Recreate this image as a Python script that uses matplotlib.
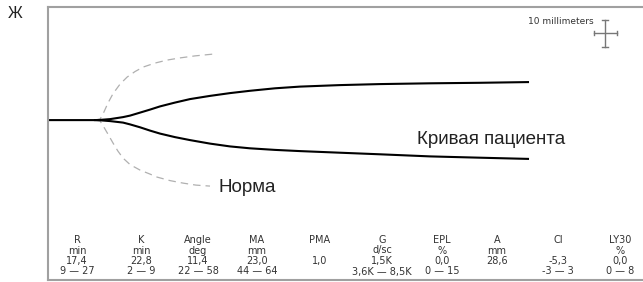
import matplotlib.pyplot as plt
import matplotlib.lines as mlines

# patient trace: time (min) vs amplitude (mm), upper and lower branch
pat_t = [19.3, 23.0, 27.8, 30.4, 34.1, 37.8, 41.5, 47.0, 52.6, 60.0, 67.4, 74.8,
         84.1, 93.3, 108.1, 122.9, 141.5, 160.0, 177.8]
pat_a_up = [0.08, 0.38, 1.15, 1.73, 2.88, 4.04, 5.27, 6.73, 8.08, 9.31, 10.38, 11.27,
            12.23, 12.88, 13.46, 13.85, 14.15, 14.35, 14.62]
pat_a_lo = [-0.08, -0.38, -0.96, -1.65, -2.77, -4.04, -5.19, -6.54, -7.69, -9.04, -10.12, -10.85,
            -11.46, -11.92, -12.54, -13.15, -13.96, -14.46, -14.92]
r_time = 17.4

# normal (reference) trace
norm_t_up = [17.4, 19.3, 20.7, 22.2, 24.1, 26.7, 29.3, 32.2, 35.2, 39.6, 44.1, 48.9, 54.4, 61.1]
norm_a_up = [0, 0.38, 3.08, 6.54, 10.19, 13.85, 16.54, 18.65, 20.38, 21.92, 23.08, 23.92, 24.69, 25.38]
norm_t_lo = [17.4, 19.3, 20.7, 22.2, 24.1, 25.9, 27.8, 30.4, 34.1, 37.8, 40.4, 45.2, 50.0, 54.8, 60.0]
norm_a_lo = [0, -0.38, -2.69, -5.38, -8.85, -11.92, -14.62, -17.12, -19.23, -20.77, -21.92,
             -23.27, -24.23, -25.0, -25.38]

# parameter table
par_names = ["R", "K", "Angle", "MA", "PMA", "G", "EPL", "A", "CI", "LY30"]
par_units = ["min", "min", "deg", "mm", "", "d/sc", "%", "mm", "", "%"]
par_values = ["17,4", "22,8", "11,4", "23,0", "1,0", "1,5K", "0,0", "28,6", "-5,3", "0,0"]
par_ranges = ["9 — 27", "2 — 9", "22 — 58", "44 — 64", "", "3,6K — 8,5K", "0 — 15", "", "-3 — 3", "0 — 8"]
col_x = [77, 141, 198, 257, 320, 382, 442, 497, 558, 620]

W, H = 643, 282
fig = plt.figure(figsize=(W / 100, H / 100), dpi=100)
ax = fig.add_axes([48 / W, 2 / H, 602 / W, 273 / H])
ax.set_xlim(0, 223)
ax.set_ylim(-61.5, 43.5)
ax.set_xticks([])
ax.set_yticks([])
for s in ["left", "top", "bottom"]:
    ax.spines[s].set_color("#a0a0a0")
    ax.spines[s].set_linewidth(1.5)
ax.spines["right"].set_visible(False)

ax.plot(norm_t_up, norm_a_up, color="#b0b0b0", lw=0.9, ls=(0, (6, 4)))
ax.plot(norm_t_lo, norm_a_lo, color="#b0b0b0", lw=0.9, ls=(0, (6, 4)))
ax.plot([0, r_time] + pat_t, [0, 0] + pat_a_up, color="black", lw=1.5)
ax.plot([r_time] + pat_t, [0] + pat_a_lo, color="black", lw=1.5)

ax.text(63.3, -25.8, "Норма", fontsize=13.5, family="Liberation Sans",
        color="#222222", va="center", ha="left")
ax.text(136.7, -7.3, "Кривая пациента", fontsize=13.5, family="Liberation Sans",
        color="#222222", va="center", ha="left")

fig.text(8 / W, 1 - 14 / H, "Ж", fontsize=11.5, family="Liberation Sans",
         color="#222222", va="center", ha="left")

# scale bar
fig.text(594 / W, 1 - 21 / H, "10 millimeters", fontsize=6.5, family="DejaVu Sans",
         color="#333333", va="center", ha="right")
for (x0, y0, x1, y1) in [(605, 20, 605, 47), (594, 33, 617, 33),
                         (602, 20, 608, 20), (602, 47, 608, 47),
                         (594, 31, 594, 35), (617, 31, 617, 35)]:
    fig.add_artist(mlines.Line2D([x0 / W, x1 / W], [1 - y0 / H, 1 - y1 / H],
                                 color="#777777", lw=1, transform=fig.transFigure))

rows_y = [240, 250.5, 261, 271.5]
for i, x in enumerate(col_x):
    for txt, y in zip([par_names[i], par_units[i], par_values[i], par_ranges[i]], rows_y):
        if txt:
            fig.text(x / W, 1 - y / H, txt, fontsize=7, family="DejaVu Sans",
                     color="#333333", ha="center", va="center")

fig.savefig("out.png", dpi=100)
